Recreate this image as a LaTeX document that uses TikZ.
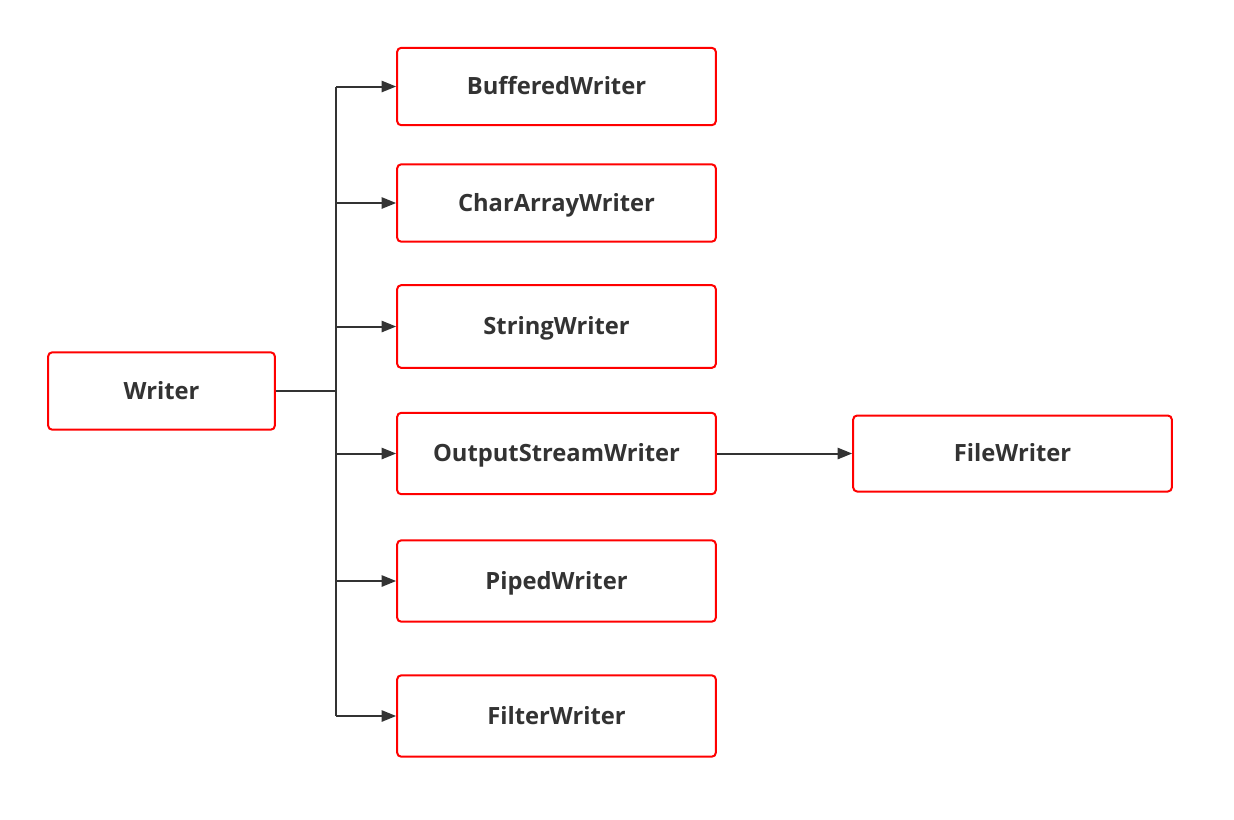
\documentclass[tikz,border=0pt]{standalone}
\usepackage{fontspec}
\setmainfont{Open Sans}
\usetikzlibrary{arrows.meta}
\begin{document}
\begin{tikzpicture}[x=0.75pt,y=-0.75pt]
  % styles
  \tikzset{
    box/.style={draw=red, line width=1.5pt, rounded corners=3pt, fill=white,
      minimum width=239pt, minimum height=58pt, inner sep=0pt,
      text height=12.5pt, text depth=0pt,
      font=\fontsize{17.8}{21}\selectfont\bfseries, text=black!80},
    ln/.style={draw=black!80, line width=1.5pt},
    arr/.style={ln, -{Triangle[length=11pt,width=8.5pt]}}
  }
  \useasboundingbox (0,0) rectangle (1234,819);

  % nodes
  \node[box, minimum width=170pt] (writer) at (161.5,391) {Writer};
  \node[box] (buffered) at (556.5,86.5) {BufferedWriter};
  \node[box] (chararray) at (556.5,203) {CharArrayWriter};
  \node[box, minimum height=62pt] (string) at (556.5,326.5) {StringWriter};
  \node[box, minimum height=61pt] (outstream) at (556.5,453.5) {OutputStreamWriter};
  \node[box, minimum height=61pt] (piped) at (556.5,581) {PipedWriter};
  \node[box, minimum height=61pt] (filter) at (556.5,716) {FilterWriter};
  \node[box, minimum height=57pt] (file) at (1012.5,453.5) {FileWriter};

  % trunk
  \coordinate (trunk) at (336,391);
  \draw[ln] (writer.east) -- (trunk);
  \draw[ln] (buffered.west -| trunk) -- (filter.west -| trunk);

  % branches
  \foreach \n in {buffered, chararray, string, outstream, piped, filter}
    \draw[arr] (\n.west -| trunk) -- (\n.west);
  \draw[arr] (outstream.east) -- (file.west);
\end{tikzpicture}
\end{document}
